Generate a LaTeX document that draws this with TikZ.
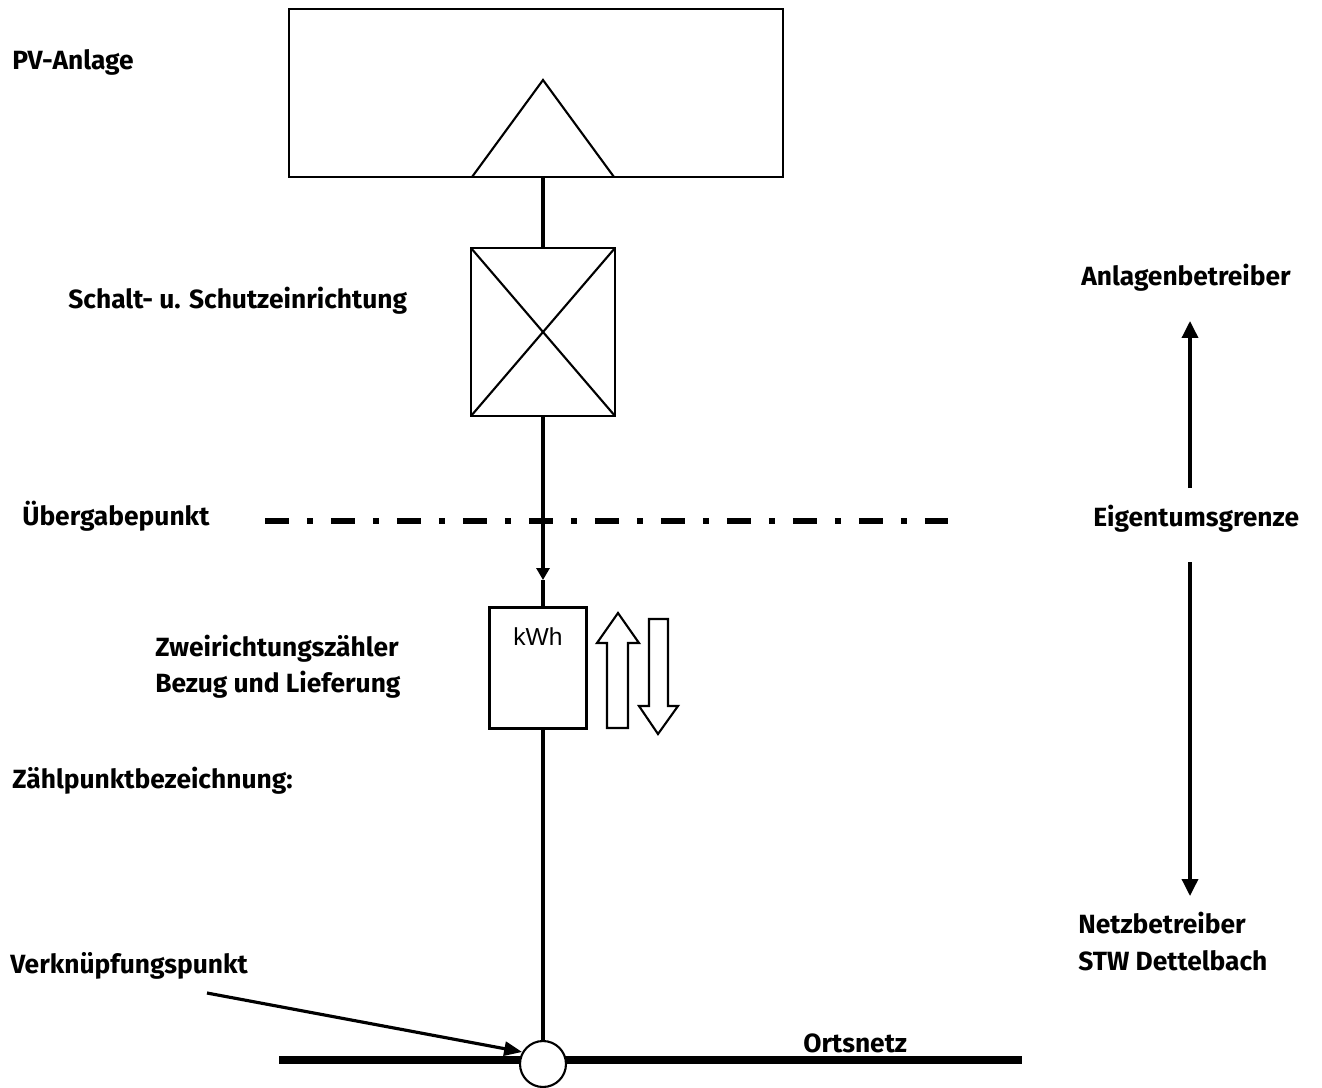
\documentclass[tikz,border=0pt]{standalone}
\usepackage{fontspec}
\setmainfont{Fira Sans}
\newfontfamily\kwhfont{Liberation Sans}
\usetikzlibrary{arrows.meta}
\tikzset{
  lbl/.style={anchor=base west, inner sep=0pt, font=\bfseries\fontsize{15}{18}\selectfont},
  box/.style={draw, line width=1.2pt, minimum width=#1, inner sep=0pt, outer sep=0pt},
  wire/.style={line width=2.3pt},
}
\begin{document}
\begin{tikzpicture}[x=0.02cm,y=-0.02cm]
    \useasboundingbox (0,0) rectangle (1322,1088);
    % Anlage und Schutz
    \node[box=9.88cm, minimum height=3.36cm] (pv) at (536,93) {};
    \draw[line width=1.2pt] (472,177) -- (543,80) -- (614,177);
    \node[box=2.88cm, minimum height=3.36cm] (sw) at (543,332) {};
    \draw[line width=1.2pt] (sw.north west) -- (sw.south east) (sw.north east) -- (sw.south west);
    \node[box=1.94cm, minimum height=2.42cm] (meter) at (538,668) {};
    \node[anchor=base, inner sep=0pt, font=\kwhfont\fontsize{14}{16}\selectfont] (kwh) at (538,645) {kWh};
    \draw[wire] (sw.north |- pv.south) -- (sw.north);
    \coordinate (tip) at (543,580);
    \draw[wire, -{Triangle[width=0.26cm,length=0.24cm]}] (sw.south) -- (tip);
    \draw[wire] (tip) -- (sw.south |- meter.north);
    % Ortsnetz
    \draw[line width=4pt] (279,1060) -- (1022,1060);
    \node[draw, circle, fill=white, line width=1.2pt, minimum size=0.92cm, inner sep=0pt] (knot) at (543,1064) {};
    \draw[wire] (sw.south |- meter.south) -- (knot);
    \node[lbl] (net) at (803,1052) {Ortsnetz};
    % Eigentumsgrenze
    \draw[line width=3.4pt, dash pattern=on 0.48cm off 0.36cm on 0.12cm off 0.36cm] (265,521) -- (948,521);
    % Energierichtung
    \draw[line width=1.2pt] (607,728) -- (628,728) -- (628,643) -- (639,643) -- (618,613) -- (597,643) -- (607,643) -- cycle;
    \draw[line width=1.2pt] (649,619) -- (668,619) -- (668,706) -- (678,706) -- (658,734) -- (639,706) -- (649,706) -- cycle;
    % Beschriftung links
    \node[lbl] (pvl) at (12,70) {PV-Anlage};
    \node[lbl] (swl) at (68,308) {Schalt- u. Schutzeinrichtung};
    \node[lbl] (ueb) at (22,525) {Übergabepunkt};
    \node[lbl] (zz1) at (155,656) {Zweirichtungszähler};
    \node[lbl] (zz2) at (155,692) {Bezug und Lieferung};
    \node[lbl] (zpb) at (12,788) {Zählpunktbezeichnung:};
    \node[lbl] (vkp) at (10,973) {Verknüpfungspunkt};
    \coordinate (vs) at (207,993);
    \draw[line width=1.8pt, -{Triangle[width=0.28cm,length=0.36cm]}] (vs) -- (knot.150);
    % Beschriftung rechts
    \node[lbl] (ab) at (1081,285) {Anlagenbetreiber};
    \node[lbl] (eg) at (1093,526) {Eigentumsgrenze};
    \node[lbl] (nb1) at (1078,933) {Netzbetreiber};
    \node[lbl] (nb2) at (1078,970) {STW Dettelbach};
    \coordinate (u1) at (1190,488);
    \coordinate (u2) at (1190,321);
    \coordinate (d1) at (1190,562);
    \coordinate (d2) at (1190,896);
    \draw[line width=2pt, -{Triangle[width=0.32cm,length=0.34cm]}] (u1) -- (u2);
    \draw[line width=2pt, -{Triangle[width=0.32cm,length=0.34cm]}] (d1) -- (d2);
\end{tikzpicture}
\end{document}
